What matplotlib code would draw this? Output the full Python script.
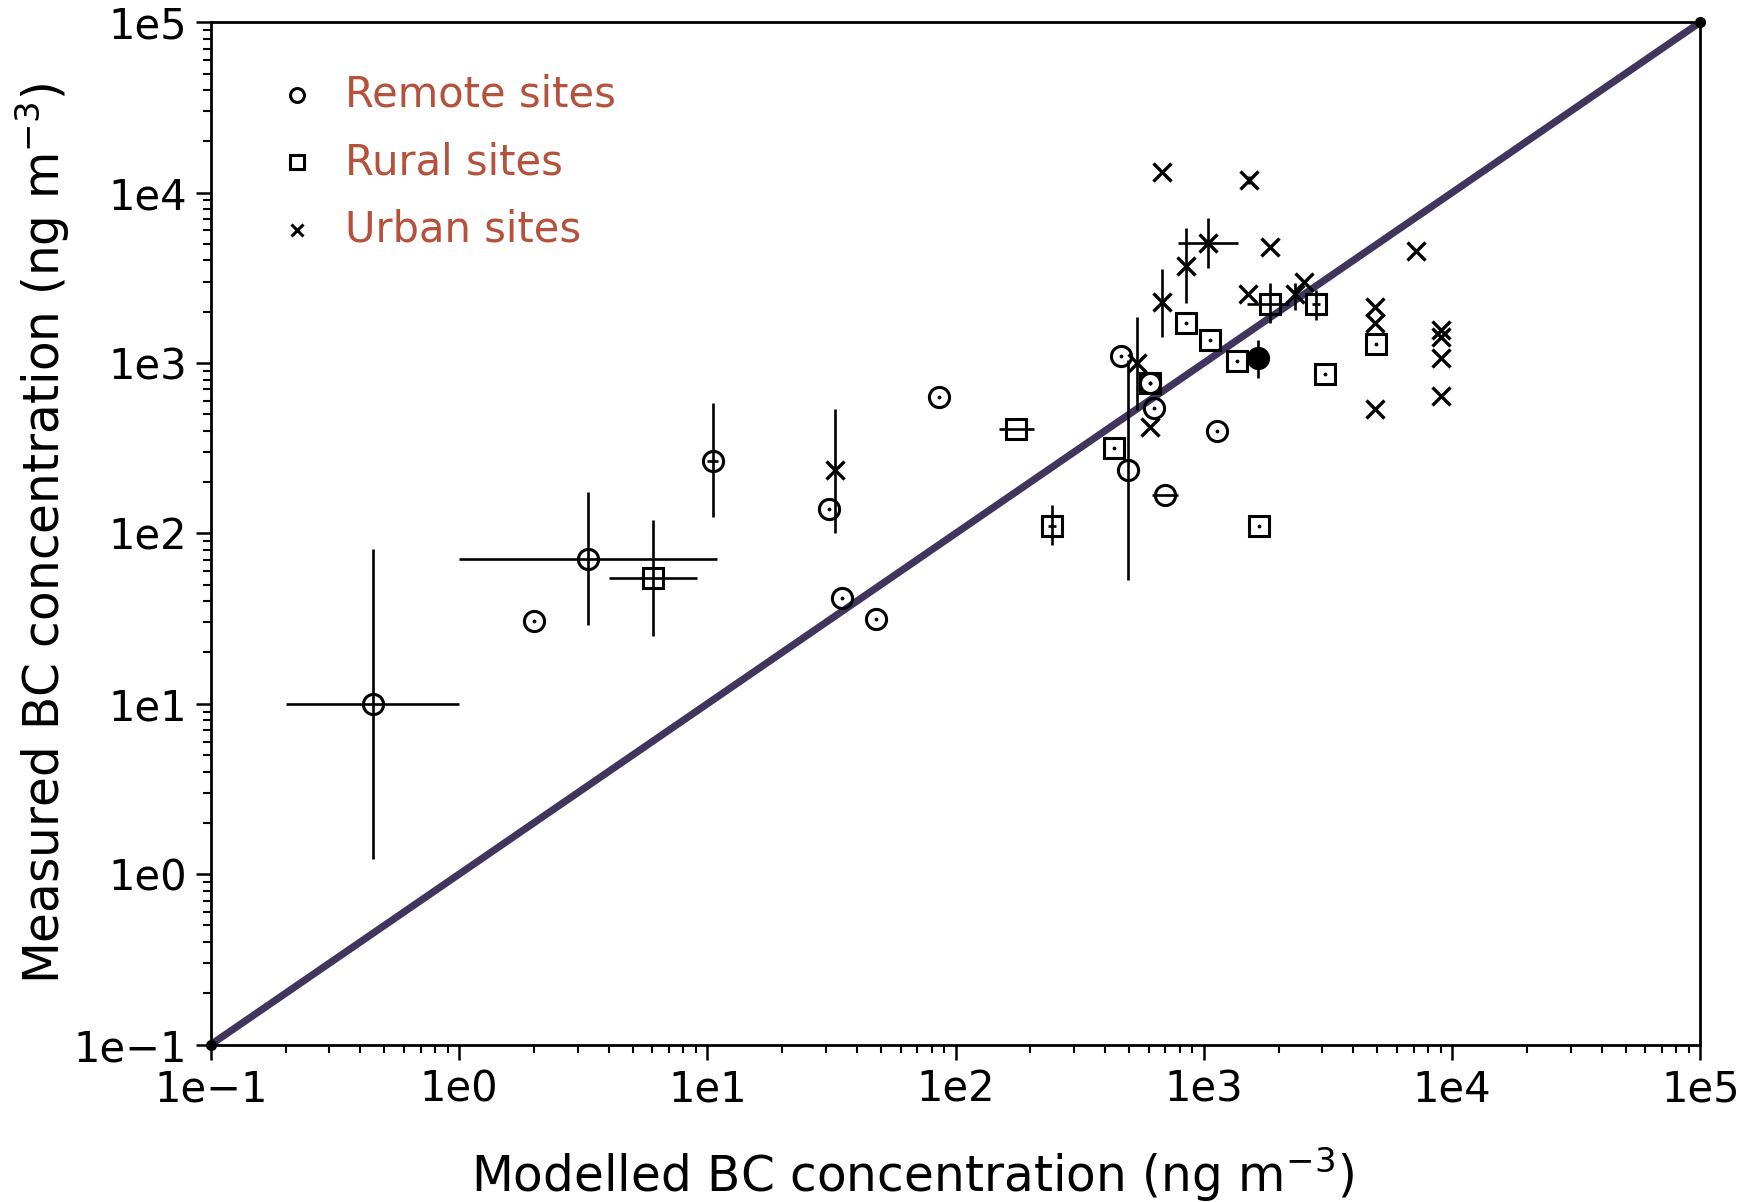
import numpy as np
from matplotlib import pyplot as plt

# remote sites, plain points (circle with a dot)
remote_x = [2.0, 31, 35, 48, 86, 465, 608, 627, 1128]
remote_y = [30.5, 139, 42, 31.5, 635, 1100, 760, 547, 398]

# remote sites with error bars
remote_err_x = [0.45, 3.3, 10.5, 494, 695]
remote_err_y = [10, 71, 266, 236, 169]
remote_err_xlo = [0.2, 1.0, 10.0, 494, 621]
remote_err_xhi = [1.0, 10.9, 11.0, 494, 787]
remote_err_ylo = [1.23, 28.8, 125, 53, 169]
remote_err_yhi = [81, 175, 580, 1040, 169]

# remote site drawn filled
remote_fill_x = [1652]
remote_fill_y = [1073]
remote_fill_ylo = [819]
remote_fill_yhi = [1364]

# rural sites, plain points (square with a dot)
rural_x = [433, 608, 845, 1060, 1358, 3067, 4930, 1668]
rural_y = [318, 760, 1709, 1364, 1026, 857, 1285, 111]

# rural sites with error bars
rural_err_x = [6.05, 175, 245, 1850, 2825]
rural_err_y = [55, 411, 111, 2206, 2206]
rural_err_xlo = [4.0, 150, 236, 1490, 2720]
rural_err_xhi = [9.06, 206, 254, 2205, 2930]
rural_err_ylo = [25, 411, 86, 1709, 1787]
rural_err_yhi = [120, 411, 146, 2933, 2681]

# urban sites, plain points
urban_x = [681, 1850, 7145, 1506, 2521, 4875, 4875, 9058, 9058, 9058, 9058, 4875, 608]
urban_y = [13180, 4818, 4537, 2525, 2979, 2142, 1709, 1560, 1430, 1073, 644, 538, 423]

# urban sites with error bars
urban_err_x = [1038, 845, 681, 2322, 537, 32.8, 1521]
urban_err_y = [5037, 3733, 2274, 2525, 995, 235, 11860]
urban_err_xlo = [787, 845, 681, 2322, 537, 32.8, 1490]
urban_err_xhi = [1372, 845, 681, 2322, 537, 32.8, 1552]
urban_err_ylo = [3622, 2239, 1427, 2046, 530, 100, 11200]
urban_err_yhi = [7117, 6220, 3568, 2933, 1871, 538, 12500]

one_to_one = [1e-1, 1e5]

plt.rcParams['font.family'] = ['DejaVu Sans']


def asym(v, lo, hi):
    v = np.array(v, dtype=float)
    return [v - np.array(lo, dtype=float), np.array(hi, dtype=float) - v]


fig = plt.figure(figsize=(17.43, 12.02), dpi=100)
ax = fig.add_axes([0.121, 0.131, 0.8545, 0.8505])

ax.plot(one_to_one, one_to_one, color='#41355e', lw=5.2, solid_capstyle='butt', zorder=2)
ax.plot(one_to_one, one_to_one, 'o', color='black', ms=7, zorder=5, clip_on=False)

k = 'black'
ms_c = 14.5
ms_s = 14.5
ms_x = 13

# error bars
ax.errorbar(remote_err_x, remote_err_y,
            xerr=asym(remote_err_x, remote_err_xlo, remote_err_xhi),
            yerr=asym(remote_err_y, remote_err_ylo, remote_err_yhi),
            fmt='o', ms=ms_c, mfc='none', mec=k, mew=2.2, ecolor=k, elinewidth=1.9, capsize=0, zorder=4)
ax.errorbar(remote_fill_x, remote_fill_y,
            yerr=asym(remote_fill_y, remote_fill_ylo, remote_fill_yhi),
            fmt='o', ms=ms_c, mfc=k, mec=k, mew=2.2, ecolor=k, elinewidth=1.9, capsize=0, zorder=4)
ax.errorbar(rural_err_x, rural_err_y,
            xerr=asym(rural_err_x, rural_err_xlo, rural_err_xhi),
            yerr=asym(rural_err_y, rural_err_ylo, rural_err_yhi),
            fmt='s', ms=ms_s, mfc='none', mec=k, mew=2.2, ecolor=k, elinewidth=1.9, capsize=0, zorder=4)
ax.errorbar(urban_err_x, urban_err_y,
            xerr=asym(urban_err_x, urban_err_xlo, urban_err_xhi),
            yerr=asym(urban_err_y, urban_err_ylo, urban_err_yhi),
            fmt='x', ms=ms_x, mec=k, mew=2.4, ecolor=k, elinewidth=1.9, capsize=0, zorder=4)

# plain points
ax.plot(remote_x, remote_y, 'o', ms=ms_c, mfc='none', mec=k, mew=2.2, zorder=4)
ax.plot(remote_x, remote_y, '.', ms=3.5, color=k, zorder=4)
ax.plot(rural_x, rural_y, 's', ms=ms_s, mfc='none', mec=k, mew=2.2, zorder=4)
ax.plot(rural_x, rural_y, '.', ms=3.5, color=k, zorder=4)
ax.plot(urban_x, urban_y, 'x', ms=ms_x, mec=k, mew=2.4, zorder=4)

ax.set_xscale('log')
ax.set_yscale('log')
ax.set_xlim(1e-1, 1e5)
ax.set_ylim(1e-1, 1e5)

ticks = [1e-1, 1e0, 1e1, 1e2, 1e3, 1e4, 1e5]
tick_labels = ['1e\u22121', '1e0', '1e1', '1e2', '1e3', '1e4', '1e5']
ax.set_xticks(ticks)
ax.set_xticklabels(tick_labels)
ax.set_yticks(ticks)
ax.set_yticklabels(tick_labels)

for s in ax.spines.values():
    s.set_linewidth(2)
ax.tick_params(which='major', direction='out', length=11, width=1.8, labelsize=30, pad=6)
ax.tick_params(which='minor', direction='out', length=6, width=1.5)
ax.tick_params(top=False, right=False)

ax.set_xlabel('Modelled BC concentration (ng m$^{-3}$)', fontsize=35)
ax.set_ylabel('Measured BC concentration (ng m$^{-3}$)', fontsize=35)
ax.xaxis.set_label_coords(0.471, -0.098)
ax.yaxis.set_label_coords(-0.093, 0.5)

# hand written key
legend_rows = [('o', 'Remote sites', 0.929), ('s', 'Rural sites', 0.863), ('x', 'Urban sites', 0.797)]
for mk, txt, yy in legend_rows:
    ax.plot([0.058], [yy], mk, transform=ax.transAxes, ms=10 if mk != 'x' else 8,
            mfc='none', mec=k, mew=2.2, clip_on=False)
    ax.text(0.09, yy, txt, transform=ax.transAxes, fontsize=30, color='#b5523c',
            va='center', ha='left')

fig.savefig('out.png', dpi=100)
